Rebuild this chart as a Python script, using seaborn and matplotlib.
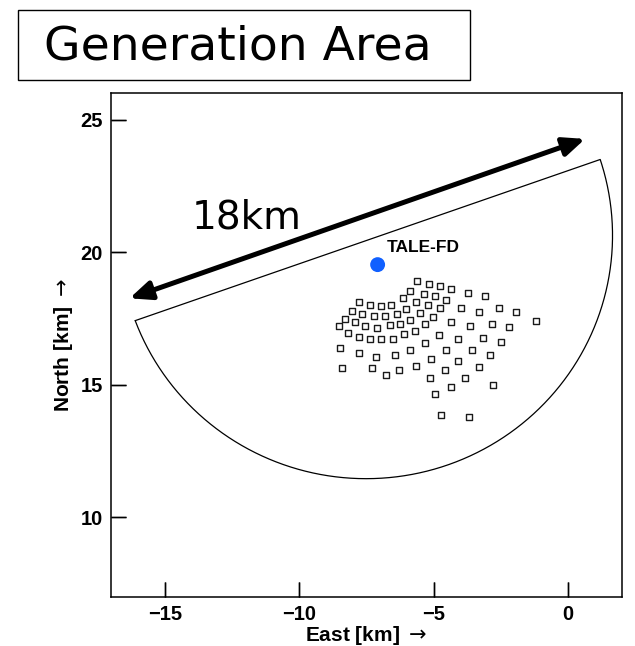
import numpy as np
import pandas as pd
import matplotlib
matplotlib.use("Agg")
import matplotlib.pyplot as plt
import seaborn as sns
from matplotlib.patches import Rectangle

# ---------------- data ----------------
sd_east = [-5.61, -5.18, -4.77, -4.35, -5.86, -5.35, -4.95, -4.52, -3.73, -3.10,
           -6.15, -5.66, -5.22, -4.76, -7.78, -7.37, -6.97, -6.58, -6.01, -5.50,
           -5.03, -3.98, -3.32, -2.57, -1.95, -1.18, -8.04, -7.65, -7.23, -6.80,
           -6.37, -5.86, -5.33, -4.34, -3.66, -2.84, -2.19, -8.30, -7.92, -7.56,
           -7.09, -6.62, -6.26, -5.70, -4.80, -4.08, -3.17, -2.50, -8.53, -8.17,
           -7.77, -7.36, -6.97, -6.49, -6.11, -5.30, -4.55, -3.58, -2.89, -8.49,
           -7.77, -7.14, -6.43, -5.89, -5.08, -4.08, -3.32, -2.78, -8.42, -7.30,
           -6.77, -6.30, -5.66, -4.59, -3.84, -5.14, -4.36, -4.93, -4.72, -3.69]
sd_north = [18.90, 18.79, 18.71, 18.61, 18.54, 18.44, 18.34, 18.21, 18.46, 18.33,
            18.26, 18.11, 18.00, 17.88, 18.11, 18.00, 17.98, 18.00, 17.86, 17.70,
            17.55, 17.89, 17.74, 17.89, 17.74, 17.41, 17.80, 17.65, 17.58, 17.59,
            17.65, 17.45, 17.29, 17.36, 17.20, 17.31, 17.16, 17.48, 17.35, 17.21,
            17.14, 17.24, 17.30, 17.01, 16.88, 16.71, 16.78, 16.63, 17.21, 16.95,
            16.81, 16.74, 16.73, 16.73, 16.90, 16.58, 16.30, 16.31, 16.11, 16.38,
            16.18, 16.04, 16.13, 16.30, 15.98, 15.88, 15.66, 15.01, 15.64, 15.63,
            15.36, 15.54, 15.71, 15.54, 15.25, 15.26, 14.91, 14.65, 13.86, 13.80]

fd_east = [-7.08]
fd_north = [19.53]
fd_label = "TALE-FD"

# generation area: circle centre/radius and arc angles (closed by a chord)
area_center = (-7.51, 20.63)
area_radius = 9.17
area_angle_start = 200.5   # degrees
area_angle_end = 378.2

arrow_start = (-16.31, 18.26)
arrow_end = (0.64, 24.27)
arrow_text = "18km"

title = "Generation Area"
x_ticks = [-15, -10, -5, 0]
y_ticks = [10, 15, 20, 25]
x_range = (-17, 2)
y_range = (7, 26)
x_label = r"East [km] $\rightarrow$"
y_label = r"North [km] $\rightarrow$"

# ---------------- figure ----------------
sns.set_style("ticks")
plt.rcParams["font.family"] = ["Liberation Sans", "DejaVu Sans"]
plt.rcParams.update({"xtick.direction": "in", "ytick.direction": "in"})

fig = plt.figure(figsize=(6.35, 6.46), dpi=100)
ax = fig.add_axes([0.1748, 0.0759, 0.8042, 0.7801])

# area outline
theta = np.radians(np.linspace(area_angle_start, area_angle_end, 300))
arc_x = area_center[0] + area_radius * np.cos(theta)
arc_y = area_center[1] + area_radius * np.sin(theta)
outline_x = np.concatenate([arc_x, arc_x[:1]])
outline_y = np.concatenate([arc_y, arc_y[:1]])
ax.plot(outline_x, outline_y, color="black", lw=0.9, zorder=1)

df = pd.DataFrame({"east": sd_east, "north": sd_north})
sns.scatterplot(data=df, x="east", y="north", marker="s", s=24,
                color="white", edgecolor="#1a1a1a", linewidth=1.0,
                ax=ax, zorder=3)

fd = pd.DataFrame({"east": fd_east, "north": fd_north})
sns.scatterplot(data=fd, x="east", y="north", marker="o", s=115,
                color="#1060ff", edgecolor="none", ax=ax, zorder=4)
ax.text(fd_east[0] + 0.34, fd_north[0] + 0.47, fd_label, fontsize=12.5,
        fontweight="bold", ha="left", va="baseline", color="black")

ax.annotate("", xy=arrow_end, xytext=arrow_start,
            arrowprops=dict(arrowstyle="<|-|>,head_length=0.65,head_width=0.28",
                            lw=3.6, color="black", mutation_scale=20,
                            shrinkA=0, shrinkB=0))
ax.text(-14.01, 20.91, arrow_text, fontsize=28, family="DejaVu Sans",
        ha="left", va="baseline", color="black")

ax.set_xlim(*x_range)
ax.set_ylim(*y_range)
ax.set_xticks(x_ticks)
ax.set_yticks(y_ticks)
ax.tick_params(direction="in", length=11, width=1.0, labelsize=14.5, pad=6,
               color="black", labelcolor="black")
for lab in ax.get_xticklabels() + ax.get_yticklabels():
    lab.set_fontweight("bold")
ax.vlines(x_ticks, 0, 0.0303, transform=ax.get_xaxis_transform(),
          color="black", lw=1.0, zorder=5, clip_on=False)
ax.hlines(y_ticks, 0, 0.030, transform=ax.get_yaxis_transform(),
          color="black", lw=1.0, zorder=5, clip_on=False)

ax.set_xlabel(x_label, fontsize=15, fontweight="bold", labelpad=0,
              color="black")
ax.set_ylabel(y_label, fontsize=15, fontweight="bold", labelpad=4,
              color="black")
for sp in ax.spines.values():
    sp.set_linewidth(1.1)
    sp.set_color("black")

# title box
fig.add_artist(Rectangle((18 / 635, 1 - 80 / 646), 452 / 635, 70 / 646,
                         transform=fig.transFigure, fill=False,
                         edgecolor="black", lw=1.0))
fig.text(238 / 635, 1 - 59 / 646, title, fontsize=34, family="DejaVu Sans",
         ha="center", va="baseline", color="black")

fig.savefig("out.png", dpi=100)
